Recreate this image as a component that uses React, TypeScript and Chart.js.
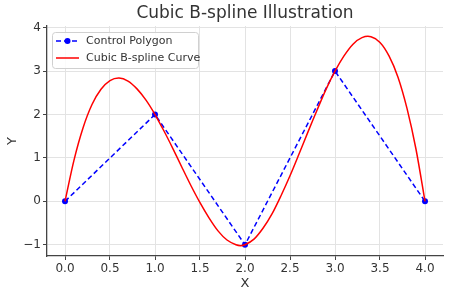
import React, { useEffect, useRef } from "react";
import { Chart, registerables } from "chart.js";

Chart.register(...registerables);

const titleText = "Cubic B-spline Illustration";
const xLabel = "X";
const yLabel = "Y";
const polygonLabel = "Control Polygon";
const curveLabel = "Cubic B-spline Curve";

const controlX = [0, 1, 2, 3, 4];
const controlY = [0, 2, -1, 3, 0];

const curveX = [
  0, 0.1, 0.2, 0.3, 0.4, 0.5, 0.6, 0.7, 0.8, 0.9, 1.0, 1.1, 1.2, 1.3, 1.4, 1.5,
  1.6, 1.7, 1.8, 1.9, 1.95, 2.0, 2.1, 2.2, 2.3, 2.4, 2.5, 2.6, 2.7, 2.8, 2.9, 3.0,
  3.1, 3.2, 3.3, 3.4, 3.5, 3.6, 3.7, 3.8, 3.9, 4.0,
];
const curveY = [
  0.0, 0.95, 1.69, 2.23, 2.58, 2.78, 2.84, 2.77, 2.59, 2.33, 2.0, 1.62, 1.21,
  0.78, 0.36, -0.03, -0.38, -0.68, -0.89, -1.0, -1.02, -1.0, -0.87, -0.62, -0.29,
  0.13, 0.59, 1.09, 1.6, 2.1, 2.58, 3.0, 3.35, 3.62, 3.77, 3.79, 3.66, 3.35, 2.86,
  2.14, 1.2, 0.0,
];

const xTicks = [0, 0.5, 1, 1.5, 2, 2.5, 3, 3.5, 4];
const yTicks = [-1, 0, 1, 2, 3, 4];

const FONT = "'DejaVu Sans', sans-serif";
const TEXT = "#333333";

export default function App() {
  const ref = useRef<HTMLCanvasElement | null>(null);

  useEffect(() => {
    document.body.style.margin = "0";
    const canvas = ref.current;
    if (!canvas) return;

    const overlay = {
      id: "overlay",
      afterDraw(chart: any) {
        const { ctx, chartArea } = chart;
        ctx.save();
        // title
        ctx.fillStyle = TEXT;
        ctx.font = `17px ${FONT}`;
        ctx.textAlign = "center";
        ctx.textBaseline = "middle";
        ctx.fillText(titleText, (chartArea.left + chartArea.right) / 2, 14);

        // legend
        const bx = chartArea.left + 5;
        const by = chartArea.top + 6;
        const bw = 146;
        const bh = 36;
        ctx.beginPath();
        ctx.roundRect(bx + 0.5, by + 0.5, bw, bh, 3);
        ctx.fillStyle = "rgba(255,255,255,0.85)";
        ctx.fill();
        ctx.strokeStyle = "#d0d0d0";
        ctx.lineWidth = 1;
        ctx.stroke();

        const lx0 = bx + 4;
        const lx1 = bx + 27;
        const y1 = by + 9;
        const y2 = by + 26;
        // polygon sample
        ctx.strokeStyle = "#0000ff";
        ctx.lineWidth = 1.5;
        ctx.setLineDash([5, 3]);
        ctx.beginPath();
        ctx.moveTo(lx0, y1);
        ctx.lineTo(lx1, y1);
        ctx.stroke();
        ctx.setLineDash([]);
        ctx.fillStyle = "#0000ff";
        ctx.beginPath();
        ctx.arc((lx0 + lx1) / 2, y1, 3, 0, Math.PI * 2);
        ctx.fill();
        // curve sample
        ctx.strokeStyle = "#ff0000";
        ctx.beginPath();
        ctx.moveTo(lx0, y2);
        ctx.lineTo(lx1, y2);
        ctx.stroke();

        ctx.fillStyle = TEXT;
        ctx.font = `11px ${FONT}`;
        ctx.textAlign = "left";
        ctx.textBaseline = "middle";
        ctx.fillText(polygonLabel, bx + 34, y1);
        ctx.fillText(curveLabel, bx + 34, y2);
        ctx.restore();
      },
    };

    const chart = new Chart(canvas, {
      type: "scatter",
      data: {
        datasets: [
          {
            label: curveLabel,
            data: curveX.map((x, i) => ({ x, y: curveY[i] })),
            showLine: true,
            borderColor: "#ff0000",
            borderWidth: 1.5,
            pointRadius: 0,
            tension: 0.3,
          },
          {
            label: polygonLabel,
            data: controlX.map((x, i) => ({ x, y: controlY[i] })),
            showLine: true,
            borderColor: "#0000ff",
            backgroundColor: "#0000ff",
            borderWidth: 1.5,
            borderDash: [5, 3],
            pointRadius: 3,
            pointBorderWidth: 0,
            pointBackgroundColor: "#0000ff",
            tension: 0,
          },
        ],
      },
      options: {
        animation: false,
        responsive: false,
        layout: { padding: { top: 26, right: 7, left: 0, bottom: 0 } },
        plugins: {
          legend: { display: false },
          title: { display: false },
          tooltip: { enabled: false },
        },
        scales: {
          x: {
            type: "linear",
            min: -0.2,
            max: 4.2,
            afterBuildTicks: (s: any) => {
              s.ticks = xTicks.map((v) => ({ value: v }));
            },
            afterFit: (s: any) => {
              s.height = 41;
            },
            ticks: {
              color: TEXT,
              font: { family: FONT, size: 12 },
              padding: 2,
              maxRotation: 0,
              callback: (v: any) => Number(v).toFixed(1),
            },
            grid: {
              color: "#e3e3e3",
              lineWidth: 1,
              tickColor: "#444444",
              tickLength: 4,
              drawTicks: true,
            },
            border: { display: true, color: "#444444", width: 1.3, dash: [] },
            title: {
              display: true,
              text: xLabel,
              color: TEXT,
              font: { family: FONT, size: 13 },
              padding: { top: 0, bottom: 6 },
            },
          },
          y: {
            type: "linear",
            min: -1.258,
            max: 4.038,
            afterBuildTicks: (s: any) => {
              s.ticks = yTicks.map((v) => ({ value: v }));
            },
            afterFit: (s: any) => {
              s.width = 47;
            },
            ticks: {
              color: TEXT,
              font: { family: FONT, size: 12 },
              padding: 2,
              callback: (v: any) => (Number(v) < 0 ? "\u2212" + Math.abs(Number(v)) : String(v)),
            },
            grid: {
              color: "#e3e3e3",
              lineWidth: 1,
              tickColor: "#444444",
              tickLength: 4,
              drawTicks: true,
            },
            border: { display: true, color: "#444444", width: 1.3 },
            title: {
              display: true,
              text: yLabel,
              color: TEXT,
              font: { family: FONT, size: 13 },
              padding: { top: 5, bottom: 0 },
            },
          },
        },
      },
      plugins: [overlay],
    } as any);

    return () => chart.destroy();
  }, []);

  return (
    <div style={{ width: 450, height: 297 }}>
      <canvas ref={ref} width={450} height={297} style={{ display: "block" }} />
    </div>
  );
}
